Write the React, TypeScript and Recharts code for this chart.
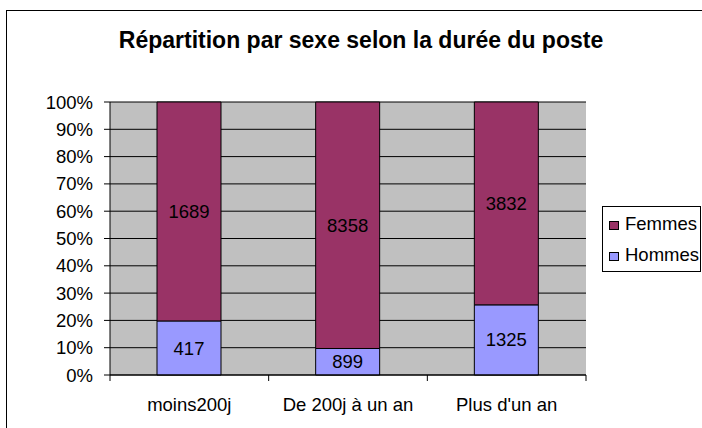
import { BarChart, Bar, XAxis, YAxis, CartesianGrid, Legend, LabelList } from 'recharts';

const categories = ['moins200j', 'De 200j à un an', "Plus d'un an"];
const hommes = [417, 899, 1325];
const femmes = [1689, 8358, 3832];
const percentTicks = [0, 0.1, 0.2, 0.3, 0.4, 0.5, 0.6, 0.7, 0.8, 0.9, 1];
const legendOrder = ['Femmes', 'Hommes'];

const data = categories.map((name, i) => ({ name, Hommes: hommes[i], Femmes: femmes[i] }));

const FEMMES = '#993366';
const HOMMES = '#9999FF';
const FONT = '"Liberation Sans", Arial, sans-serif';
const FS = 18.5;

// plot box
const PLOT_LEFT = 110;
const PLOT_RIGHT = 586;
const band = (PLOT_RIGHT - PLOT_LEFT) / categories.length;

function CategoryTick(props: any) {
  const { x, y, payload, index } = props;
  return (
    <g>
      <line x1={x - band / 2} x2={x - band / 2} y1={y} y2={y + 6} stroke="#000" />
      {index === categories.length - 1 && (
        <line x1={x + band / 2} x2={x + band / 2} y1={y} y2={y + 6} stroke="#000" />
      )}
      <text x={x} y={y + 36} textAnchor="middle" fill="#000" fontSize={FS}>
        {payload.value}
      </text>
    </g>
  );
}

function LegendBox(props: any) {
  const items = [...(props.payload || [])].sort(
    (a: any, b: any) => legendOrder.indexOf(a.value) - legendOrder.indexOf(b.value)
  );
  return (
    <div
      style={{
        border: '1px solid #000',
        background: '#fff',
        padding: '1px 0 2px 6px',
        boxSizing: 'border-box',
        height: 66,
        width: 99,
      }}
    >
      {items.map((it: any) => (
        <div key={it.value} style={{ display: 'flex', alignItems: 'center', height: 31, fontSize: FS, whiteSpace: 'nowrap' }}>
          <span
            style={{
              display: 'inline-block',
              width: 8,
              height: 7,
              background: it.color,
              border: '1px solid #000',
              marginRight: 6,
              marginTop: 3,
            }}
          />
          <span>{it.value}</span>
        </div>
      ))}
    </div>
  );
}

export default function App() {
  return (
    <div
      style={{
        position: 'fixed',
        left: 0,
        top: 0,
        width: 702,
        height: 428,
        overflow: 'hidden',
        background: '#fff',
        fontFamily: FONT,
      }}
    >
      <div
        style={{
          position: 'absolute',
          left: 6,
          top: 10,
          width: 760,
          height: 460,
          border: '1px solid #000',
        }}
      />
      <div
        style={{
          position: 'absolute',
          left: 361 - 300,
          width: 600,
          top: 27,
          textAlign: 'center',
          fontSize: 23,
          fontWeight: 'bold',
          color: '#000',
        }}
      >
        Répartition par sexe selon la durée du poste
      </div>
      <div style={{ position: 'absolute', left: 0, top: 0 }}>
        <BarChart
          width={702}
          height={428}
          data={data}
          stackOffset="expand"
          margin={{ top: 102, right: 116, left: 30, bottom: 13 }}
        >
          <CartesianGrid fill="#C0C0C0" stroke="#000" vertical={false} horizontalValues={percentTicks} />
          <XAxis
            dataKey="name"
            axisLine={{ stroke: '#000' }}
            tickLine={false}
            tickSize={0}
            tickMargin={0}
            height={40}
            interval={0}
            tick={<CategoryTick />}
          />
          <YAxis
            width={80}
            domain={[0, 1]}
            ticks={percentTicks}
            tickFormatter={(v: number) => `${Math.round(v * 100)}%`}
            axisLine={{ stroke: '#000' }}
            tickLine={{ stroke: '#000' }}
            tickSize={6}
            tickMargin={11}
            tick={{ fill: '#000', fontSize: FS }}
          />
          <Legend
            layout="vertical"
            align="center"
            verticalAlign="middle"
            content={<LegendBox />}
            wrapperStyle={{ left: 602, top: 206, width: 99 }}
          />
          <Bar dataKey="Hommes" stackId="a" fill={HOMMES} stroke="#000" barSize={64} isAnimationActive={false}>
            <LabelList dataKey="Hommes" position="center" fill="#000" fontSize={FS} />
          </Bar>
          <Bar dataKey="Femmes" stackId="a" fill={FEMMES} stroke="#000" barSize={64} isAnimationActive={false}>
            <LabelList dataKey="Femmes" position="center" fill="#000" fontSize={FS} />
          </Bar>
        </BarChart>
      </div>
    </div>
  );
}
